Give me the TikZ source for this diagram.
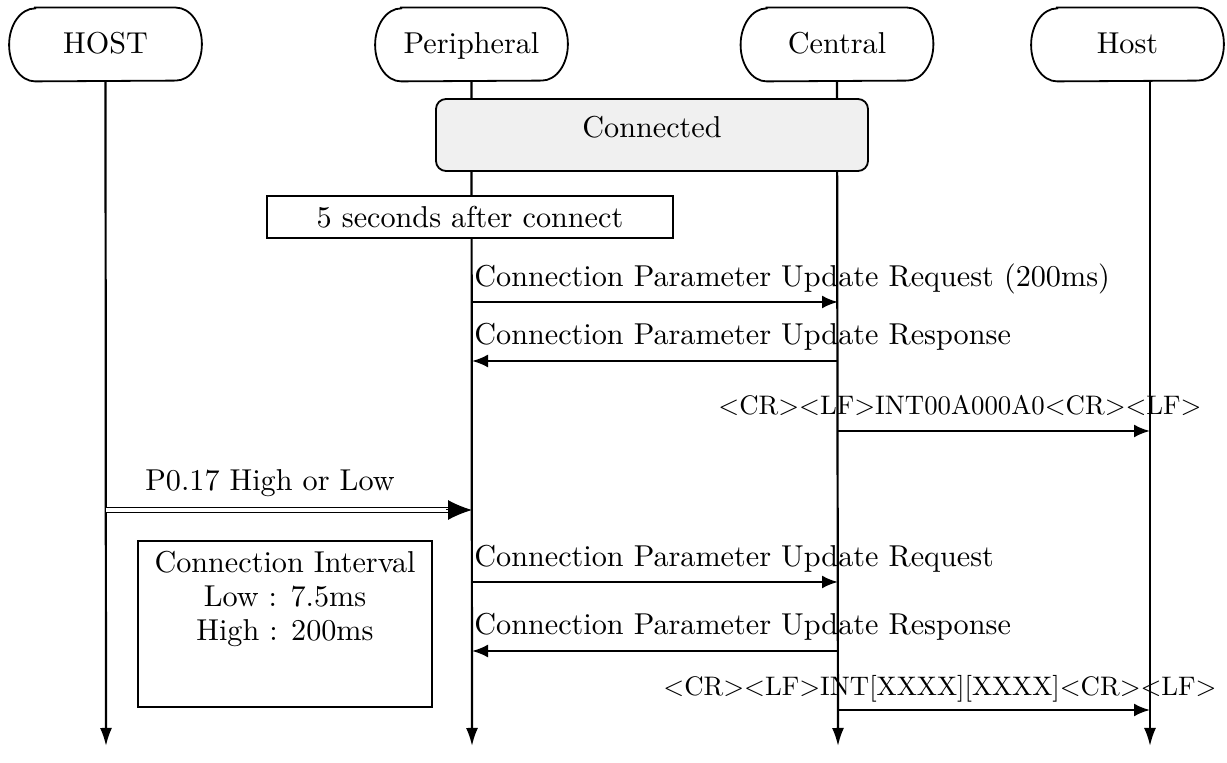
\documentclass[tikz,border=0pt]{standalone}
\usepackage{fontspec}
\setmainfont{lmroman10-regular.otf}
\usetikzlibrary{arrows.meta,calc}
\newcommand\actorframe[1]{%
  \draw[line width=0.9pt] ($(#1.north west)+(13pt,0)$) -- ($(#1.north east)+(-13pt,0)$)
    arc[start angle=90,end angle=-90,x radius=13pt,y radius=18.25pt]
    -- ($(#1.south west)+(13pt,0)$)
    arc[start angle=270,end angle=90,x radius=13pt,y radius=18.25pt] -- cycle;}
\begin{document}
\begin{tikzpicture}[x=0.5pt,y=-0.5pt,
  every node/.style={font=\fontsize{15.1}{17}\selectfont},
  actor/.style={minimum width=96pt,minimum height=36.5pt,inner sep=0pt,text height=2ex,text depth=0pt},
  lifeline/.style={line width=1.1pt,-{Latex[length=9pt,width=6pt]}},
  msg/.style={line width=1.2pt,-{Latex[length=8pt,width=6.5pt]}},
  plainbox/.style={draw,line width=0.9pt,inner sep=0pt},
  lbl/.style={inner sep=0pt,anchor=base west},
  clbl/.style={inner sep=0pt,anchor=base},
  intlbl/.style={inner sep=0pt,anchor=base,font=\fontsize{13.4}{17}\selectfont}
]
\useasboundingbox (0,0) rectangle (1227,763);
% actors
\node[actor] (hA) at (105.5,44.5) {HOST};
\node[actor] (pe) at (471.5,44.5) {Peripheral};
\node[actor] (ce) at (837,44.5) {Central};
\node[actor] (hB) at (1127.5,44.5) {Host};
\actorframe{hA}\actorframe{pe}\actorframe{ce}\actorframe{hB}
% lifeline ends
\coordinate (hAe) at (106,746);
\coordinate (pee) at (472,746);
\coordinate (cee) at (838,746);
\coordinate (hBt) at (1150,81);
\coordinate (hBe) at (1150,746);
\draw[lifeline] (hA.south) -- (hAe);
\draw[lifeline] (pe.south) -- (pee);
\draw[lifeline] (ce.south) -- (cee);
\draw[lifeline] (hBt) -- (hBe);
% connected box
\node[draw,line width=0.9pt,fill=black!6,rounded corners=5pt,minimum width=216pt,minimum height=36pt,inner sep=0pt] (conn) at (652,135) {};
\node[inner sep=0pt] (connt) at (652,127) {Connected};
% 5 seconds box
\node[plainbox,fill=white,minimum width=203pt,minimum height=21pt] (five) at (470,217) {5 seconds after connect};
% message rows
\coordinate (r1) at (0,302);
\coordinate (r2) at (0,361);
\coordinate (r3) at (0,431);
\coordinate (r4) at (0,510);
\coordinate (r5) at (0,582);
\coordinate (r6) at (0,651);
\coordinate (r7) at (0,710);
\draw[msg] (pee |- r1) -- (cee |- r1);
\node[lbl] (l1) at (474,287) {Connection Parameter Update Request (200ms)};
\draw[msg] (cee |- r2) -- (pee |- r2);
\node[lbl] (l2) at (474,345) {Connection Parameter Update Response};
\draw[msg] (cee |- r3) -- (hBe |- r3);
\node[intlbl] (l3) at (960,415) {<CR><LF>INT00A000A0<CR><LF>};
% double arrow
\draw[line width=0.9pt,double,double distance=1.6pt,shorten >=12pt] (hAe |- r4) -- (pee |- r4);
\draw[line width=0.5pt,-{Latex[length=12pt,width=10pt]}] ($(pee |- r4)+(-26,0)$) -- (pee |- r4);
\node[clbl] (l4) at (270,491) {P0.17 High or Low};
% connection interval box
\node[plainbox,minimum width=147pt,minimum height=83pt] (ci) at (285,624) {};
\node[inner sep=0pt,align=center,anchor=north] (cit) at (285,551) {Connection Interval\\Low : 7.5ms\\High : 200ms};
\draw[msg] (pee |- r5) -- (cee |- r5);
\node[lbl] (l5) at (474,567) {Connection Parameter Update Request};
\draw[msg] (cee |- r6) -- (pee |- r6);
\node[lbl] (l6) at (474,635) {Connection Parameter Update Response};
\draw[msg] (cee |- r7) -- (hBe |- r7);
\node[intlbl] (l7) at (940,696) {<CR><LF>INT[XXXX][XXXX]<CR><LF>};
\end{tikzpicture}
\end{document}
